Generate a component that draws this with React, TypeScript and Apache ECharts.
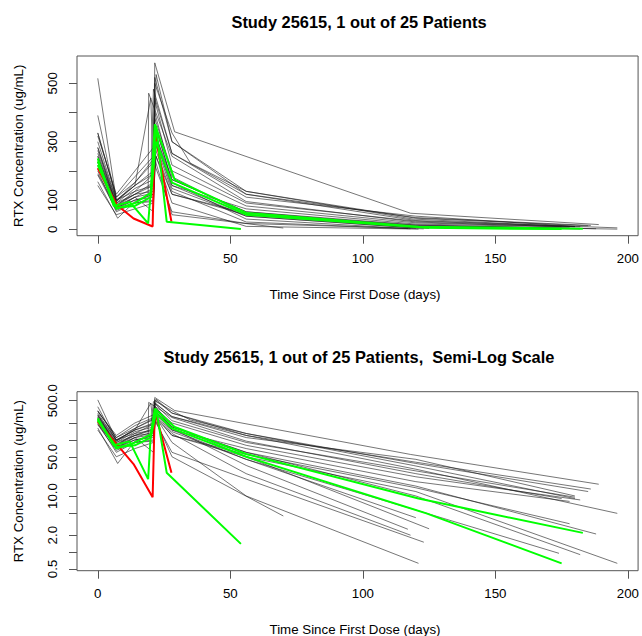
import React, { useEffect, useRef } from "react";
import * as echarts from "echarts";

// ---------- axis ticks / labels ----------
const xTicks = [0, 50, 100, 150, 200];
const linTicks = [0, 100, 200, 300, 400, 500];
const linLabels = [0, 100, 300, 500];
const logTicks = [0.5, 1, 2, 5, 10, 20, 50, 100, 200, 500];
const logLabels = [0.5, 2, 10, 50, 500];

// ---------- patient profiles: [time (days), RTX concentration (ug/mL)] ----------
const p01 = [[0, 330], [7, 110], [14, 160], [21, 240], [21.5, 570], [29, 334], [118, 55], [189, 16.2]];
const p02 = [[0, 517], [7, 100], [14, 130], [20, 180], [21, 480], [28, 260], [56, 120], [120, 40], [186, 13.3]];
const p03 = [[0, 390], [7, 95], [14, 150], [21, 200], [22, 530], [28, 300], [56, 130], [119, 35], [180, 9]];
const p04 = [[0, 280], [7, 80], [14, 110], [19, 120], [19.2, 466], [28, 250], [56, 95], [120, 25], [175, 9]];
const p05 = [[0, 250], [7, 90], [14, 120], [21, 150], [21.5, 380], [28, 200], [56, 80], [120, 22], [182, 8.5]];
const p06 = [[0, 230], [7, 70], [14, 100], [21, 110], [21.5, 330], [28, 170], [56, 60], [120, 15], [188, 2.1]];
const p07 = [[0, 200], [7, 60], [14, 90], [21, 95], [22, 300], [28, 140], [56, 45], [118, 6], [174, 0.95]];
const p08 = [[0, 163], [7.5, 38], [14, 95], [21, 120], [22, 250], [28, 90], [56, 10], [121, 0.63]];
const p09 = [[0, 190], [7, 75], [14, 110], [21, 60], [21.5, 240], [28, 50], [70, 4.4]];
const p10 = [[0, 220], [7, 80], [14, 130], [21, 150], [21.5, 300], [28, 130], [56, 25], [118, 2.0]];
const p11 = [[0, 260], [7, 90], [14, 140], [21, 170], [22, 350], [28, 160], [56, 35], [117, 2.55]];
const p12 = [[0, 300], [7, 100], [14, 150], [21, 190], [21.5, 400], [28, 180], [56, 50], [125, 2.6]];
const p13 = [[0, 240], [7, 85], [14, 120], [21, 160], [22, 320], [28, 150], [56, 45], [120, 4.1]];
const p14 = [[0, 270], [7, 95], [14, 160], [21, 230], [21.5, 450], [28, 260], [56, 110], [120, 45], [180, 10]];
const p15 = [[0, 210], [7, 70], [14, 110], [21, 140], [22, 300], [28, 150], [56, 70], [120, 18], [178, 8]];
const p16 = [[0, 330], [7, 110], [14, 180], [21, 250], [21.5, 520], [28, 300], [56, 120], [120, 30], [196, 4.9]];
const p17 = [[0, 230], [7, 75], [14, 100], [21, 120], [21.5, 280], [28, 120], [56, 50], [120, 12], [196, 0.63]];
const p18 = [[0, 250], [7, 80], [14, 120], [21, 130], [22, 340], [28, 170], [56, 60], [120, 10], [182, 0.9]];
const p19 = [[0, 186], [7, 65], [14, 90], [21, 100], [21.5, 260], [28, 120], [56, 55], [120, 14], [178, 3.2]];
const p20 = [[0, 280], [7, 100], [14, 150], [20, 450], [21, 180], [21.5, 440], [28, 220], [56, 90], [120, 28], [180, 9.5]];
const p21 = [[0, 150], [7, 50], [14, 70], [21, 90], [21.5, 220], [28, 60], [56, 20], [123, 1.5]];
const p22 = [[0, 320], [7, 120], [14, 200], [21, 280], [21.5, 500], [28, 330], [35, 226], [56, 130], [120, 38], [185, 12]];

const r01 = [[0, 209], [7.2, 83], [13.5, 37], [20.7, 9.5], [21.5, 334], [27.8, 26]];

const g01 = [[0, 243], [6, 80], [12, 94], [19, 20], [20, 130], [22, 355], [26, 26], [54, 1.4]];
const g02 = [[0, 233], [7, 70], [14, 90], [20, 125], [21.5, 360], [29, 170], [56, 56], [121, 9], [183, 2.2]];
const g03 = [[0, 220], [7, 75], [14, 80], [20, 110], [22, 300], [28, 160], [56, 50], [124, 4.9], [175, 0.63]];

const blackPatients = [p01, p02, p03, p04, p05, p06, p07, p08, p09, p10, p11, p12, p13, p14, p15, p16, p17, p18, p19, p20, p21, p22];
const redPatients = [r01];
const greenPatients = [g01, g02, g03];

const FONT = "'Liberation Sans', Arial, Helvetica, sans-serif";
const AXIS_COLOR = "#555";

function buildOption() {
  const grids = [
    { left: 77, top: 56, width: 566, height: 179.7 },
    { left: 77, top: 391.7, width: 566, height: 179 },
  ].map((g) => ({
    ...g,
    show: true,
    borderColor: AXIS_COLOR,
    borderWidth: 1,
    backgroundColor: "transparent",
    containLabel: false,
  }));

  const xAxis = [0, 1].map((i) => ({
    type: "value",
    gridIndex: i,
    position: "bottom",
    min: -7.84,
    max: 203.84,
    axisLine: { show: false, onZero: false },
    splitLine: { show: false },
    axisTick: { show: true, length: 8, customValues: xTicks, lineStyle: { color: AXIS_COLOR, width: 1 } },
    axisLabel: { customValues: xTicks, margin: 16, fontSize: 13.3, color: "#000", fontFamily: FONT },
  }));

  const yAxis = [
    {
      type: "value",
      gridIndex: 0,
      position: "left",
      min: -21.9,
      max: 593.5,
      axisLine: { show: false, onZero: false },
      splitLine: { show: false },
      axisTick: { show: true, length: 8, customValues: linTicks, lineStyle: { color: AXIS_COLOR, width: 1 } },
      axisLabel: { customValues: linLabels, rotate: 90, margin: 18, fontSize: 13.3, color: "#000", fontFamily: FONT },
    },
    {
      type: "value",
      gridIndex: 1,
      position: "left",
      min: -0.332,
      max: 2.859,
      axisLine: { show: false, onZero: false },
      splitLine: { show: false },
      axisTick: { show: true, length: 8, customValues: logTicks.map(Math.log10), lineStyle: { color: AXIS_COLOR, width: 1 } },
      axisLabel: {
        customValues: logLabels.map(Math.log10),
        rotate: 90,
        margin: 18,
        fontSize: 13.3,
        color: "#000",
        fontFamily: FONT,
        formatter: (v: number) => Math.pow(10, v).toFixed(1),
      },
    },
  ];

  const series: any[] = [];
  const addGroup = (group: number[][][], color: string, width: number, z: number) => {
    group.forEach((p) => {
      series.push({
        type: "line",
        xAxisIndex: 0,
        yAxisIndex: 0,
        data: p,
        symbol: "none",
        silent: true,
        z,
        lineStyle: { color, width },
      });
      series.push({
        type: "line",
        xAxisIndex: 1,
        yAxisIndex: 1,
        data: p.map(([t, c]) => [t, Math.log10(c)]),
        symbol: "none",
        silent: true,
        z,
        lineStyle: { color, width },
      });
    });
  };
  addGroup(blackPatients, "#1a1a1a", 0.6, 2);
  addGroup(redPatients, "#ff0000", 2, 3);
  addGroup(greenPatients, "#00ff00", 2, 4);

  const textStyle = (text: string, size: number, bold: boolean) => ({
    text,
    font: `${bold ? "bold " : ""}${size}px ${FONT}`,
    fill: "#000",
    textAlign: "center",
    textVerticalAlign: "middle",
  });

  const graphic = [
    { type: "text", x: 359, y: 22, style: textStyle("Study 25615, 1 out of 25 Patients", 16.4, true) },
    { type: "text", x: 359, y: 357, style: textStyle("Study 25615, 1 out of 25 Patients,  Semi-Log Scale", 16.4, true) },
    { type: "text", x: 355, y: 294.5, style: textStyle("Time Since First Dose (days)", 13.3, false) },
    { type: "text", x: 355, y: 629.5, style: textStyle("Time Since First Dose (days)", 13.3, false) },
    { type: "text", x: 18, y: 145.8, rotation: Math.PI / 2, style: textStyle("RTX Concentration (ug/mL)", 13.3, false) },
    { type: "text", x: 18, y: 481.2, rotation: Math.PI / 2, style: textStyle("RTX Concentration (ug/mL)", 13.3, false) },
  ];

  return {
    animation: false,
    backgroundColor: "#fff",
    grid: grids,
    xAxis,
    yAxis,
    series,
    graphic,
  };
}

export default function App() {
  const ref = useRef<HTMLDivElement>(null);
  useEffect(() => {
    if (!ref.current) return;
    const chart = echarts.init(ref.current, undefined, { renderer: "svg" });
    chart.setOption(buildOption() as any);
    return () => chart.dispose();
  }, []);
  return (
    <div
      ref={ref}
      style={{ position: "fixed", left: 0, top: 0, width: 642, height: 636, background: "#fff" }}
    />
  );
}
